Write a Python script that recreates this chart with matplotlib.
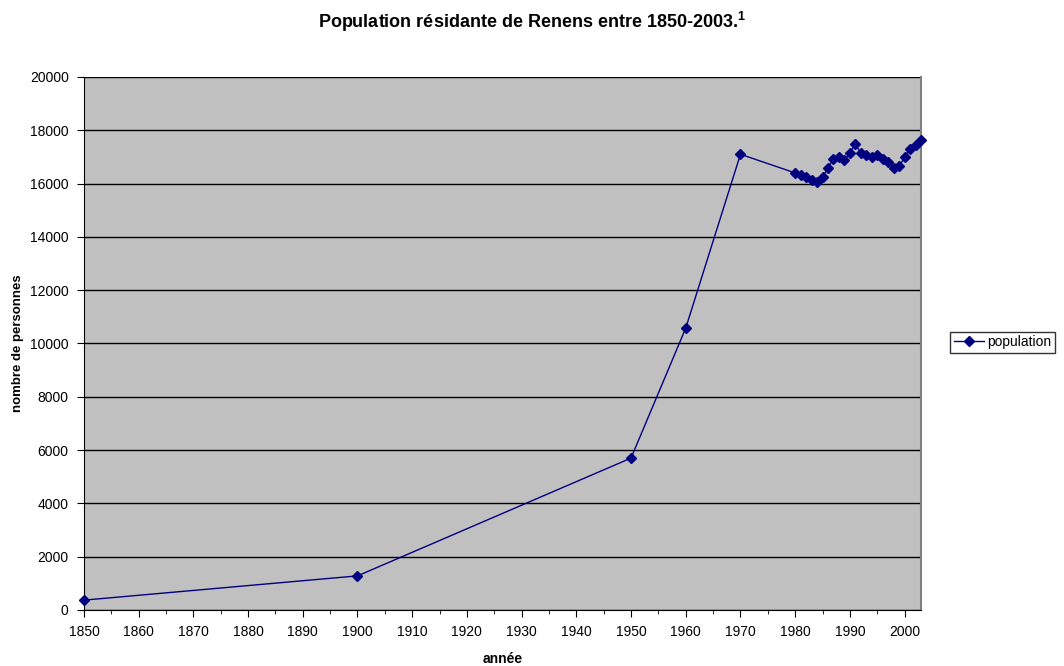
import numpy as np
import matplotlib.pyplot as plt
from matplotlib.ticker import MultipleLocator

plt.rcParams['font.family'] = ['Liberation Sans', 'DejaVu Sans']
plt.rcParams['mathtext.fontset'] = 'custom'
plt.rcParams['mathtext.bf'] = 'Liberation Sans:bold'
plt.rcParams['mathtext.rm'] = 'Liberation Sans'

# population figures for Renens
annees = [1850, 1900, 1950, 1960, 1970,
          1980, 1981, 1982, 1983, 1984, 1985, 1986, 1987, 1988, 1989,
          1990, 1991, 1992, 1993, 1994, 1995, 1996, 1997, 1998, 1999,
          2000, 2001, 2002, 2003]
population = [370, 1280, 5700, 10580, 17100,
              16400, 16310, 16230, 16130, 16050, 16230, 16590, 16930, 16980, 16880,
              17130, 17500, 17130, 17060, 16980, 17090, 16940, 16820, 16590, 16650,
              16980, 17310, 17440, 17650]

fig = plt.figure(figsize=(10.64, 6.66), dpi=100)
ax = fig.add_axes([0.0789, 0.0841, 0.7867, 0.8003])
ax.set_facecolor('#c0c0c0')

line, = ax.plot(annees, population, '-D', color='#000080', markersize=5,
                linewidth=1, label='population', clip_on=False, zorder=3)

ax.set_xlim(1850, 2003)
ax.set_ylim(0, 20000)
ax.xaxis.set_major_locator(MultipleLocator(10))
ax.xaxis.set_minor_locator(MultipleLocator(5))
ax.yaxis.set_major_locator(MultipleLocator(2000))
ax.yaxis.grid(True, color='black', linewidth=1)
ax.set_axisbelow(True)

ax.tick_params(axis='both', labelsize=10, direction='out', length=5, pad=6)
ax.tick_params(axis='x', which='minor', length=3)
ax.spines['top'].set_visible(False)
ax.spines['right'].set_color('#808080')
ax.spines['right'].set_linewidth(1.5)

ax.set_xlabel('année', fontsize=10, fontweight='bold', labelpad=9)
ax.set_ylabel('nombre de personnes', fontsize=9.5, fontweight='bold', labelpad=4)

fig.text(0.5, 0.967, r'Population résidante de Renens entre 1850-2003.$^\mathbf{1}$',
         ha='center', va='center', fontsize=13, fontweight='bold')

leg = fig.legend(handles=[line], loc='center left', bbox_to_anchor=(0.893, 0.486),
                 fontsize=10, frameon=True, fancybox=False, edgecolor='black',
                 handlelength=2.2, borderpad=0.25, handletextpad=0.2,
                 borderaxespad=0)
leg.get_frame().set_linewidth(1)

fig.savefig('out.png', dpi=100)
